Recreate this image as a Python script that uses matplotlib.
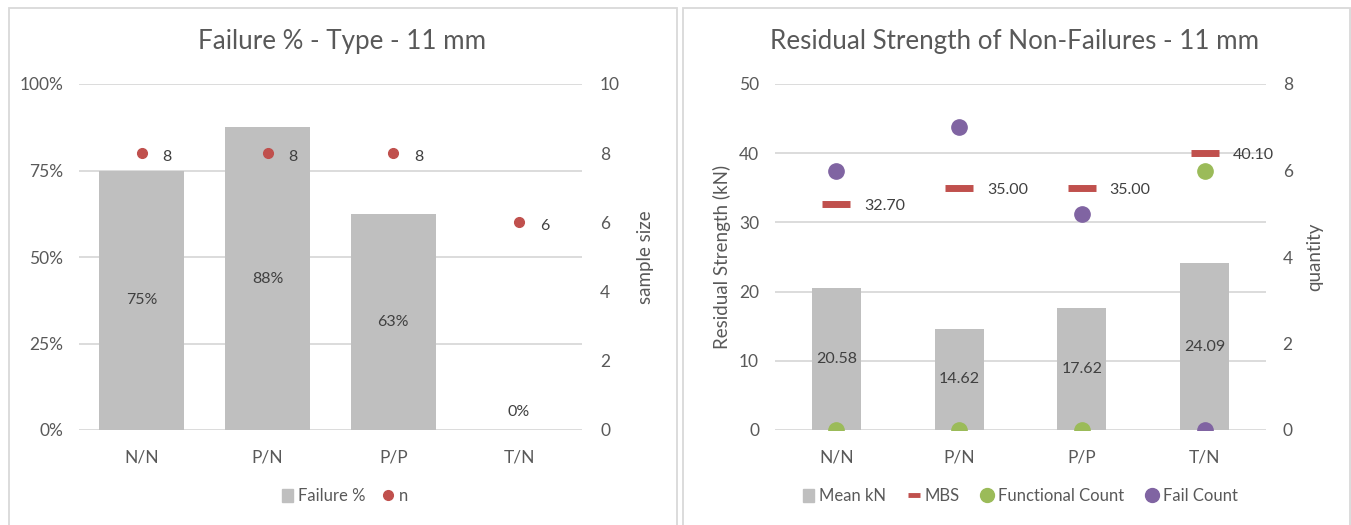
import matplotlib
matplotlib.use("Agg")
import matplotlib.pyplot as plt
from matplotlib.patches import Rectangle
from matplotlib.lines import Line2D
from matplotlib.ticker import FuncFormatter, MultipleLocator

# ---- data ----
categories = ["N/N", "P/N", "P/P", "T/N"]
failure_pct = [0.75, 0.875, 0.625, 0.0]
failure_labels = ["75%", "88%", "63%", "0%"]
sample_n = [8, 8, 8, 6]

mean_kn = [20.58, 14.62, 17.62, 24.09]
mbs = [32.70, 35.00, 35.00, 40.10]
functional_count = [0, 0, 0, 6]
fail_count = [6, 7, 5, 0]

plt.rcParams['font.family'] = ['Lato', 'DejaVu Sans']
TXT = '#595959'
DLBL = '#404040'
GRID = '#d9d9d9'
BAR = '#bfbfbf'
RED = '#c0504d'
GREEN = '#9bbb59'
PURPLE = '#8064a2'

TICK_FS = 12.5
DL_FS = 11.5
AXL_FS = 13.5
TITLE_FS = 18.7
LEG_FS = 12

W, H = 1351, 525
fig = plt.figure(figsize=(W / 100, H / 100), dpi=100)
fig.patch.set_facecolor('white')

# panel borders
for (x0, x1) in [(8.5, 676.5), (682.5, 1350)]:
    fig.add_artist(Rectangle((x0 / W, -0.05), (x1 - x0) / W, 1.05 - 7.5 / H,
                             transform=fig.transFigure, fill=False,
                             edgecolor='#d9d9d9', lw=1.3))

def ax_rect(x0, x1, ytop, ybot):
    return [x0 / W, 1 - ybot / H, (x1 - x0) / W, (ybot - ytop) / H]

def style(ax):
    for s in ax.spines.values():
        s.set_visible(False)
    ax.tick_params(length=0, colors=TXT, labelsize=TICK_FS)

x = list(range(len(categories)))

# ---------------- left chart ----------------
ax1 = fig.add_axes(ax_rect(79, 582, 84, 430))
ax1.set_xlim(-0.5, 3.5)
ax1.set_ylim(0, 1.0)
ax1.yaxis.set_major_locator(MultipleLocator(0.25))
ax1.yaxis.set_major_formatter(FuncFormatter(lambda v, p: f"{v*100:.0f}%"))
ax1.grid(axis='y', color=GRID, lw=1.3)
ax1.set_axisbelow(True)
ax1.bar(x, failure_pct, width=0.675, color=BAR, zorder=2)
ax1.set_xticks(x)
ax1.set_xticklabels(categories)
style(ax1)
ax1.tick_params(axis='x', pad=14)
ax1.tick_params(axis='y', pad=11.5)
for xi, v, lab in zip(x, failure_pct, failure_labels):
    if v > 0:
        ax1.text(xi, v / 2, lab, ha='center', va='center', color=DLBL, fontsize=DL_FS, zorder=5)
    else:
        ax1.annotate(lab, (xi, 0), xytext=(0, 13), textcoords='offset points',
                     ha='center', va='center', color=DLBL, fontsize=DL_FS)

ax1b = ax1.twinx()
ax1b.set_ylim(0, 10)
ax1b.yaxis.set_major_locator(MultipleLocator(2))
ax1b.plot(x, sample_n, 'o', color=RED, ms=7, zorder=6)
for xi, v in zip(x, sample_n):
    ax1b.annotate(str(v), (xi, v), xytext=(15, -2.5), textcoords='offset points',
                  ha='left', va='center', color=DLBL, fontsize=DL_FS)
style(ax1b)
ax1b.tick_params(axis='y', pad=13)
ax1b.set_ylabel('sample size', color=TXT, fontsize=AXL_FS, labelpad=12)

fig.text(342 / W, 1 - 41 / H, 'Failure % - Type - 11 mm', ha='center', va='center',
         color=TXT, fontsize=TITLE_FS)

h1 = [Rectangle((0, 0), 1, 1, color=BAR),
      Line2D([], [], ls='none', marker='o', color=RED, ms=7)]
fig.legend(h1, ['Failure %', 'n'], loc='center', bbox_to_anchor=(345 / W, 1 - 496 / H),
           ncol=2, frameon=False, fontsize=LEG_FS, labelcolor=TXT, handlelength=0.7,
           handleheight=0.8, handletextpad=0.3, columnspacing=1.0)

# ---------------- right chart ----------------
ax2 = fig.add_axes(ax_rect(775, 1266, 84, 430))
ax2.set_xlim(-0.5, 3.5)
ax2.set_ylim(0, 50)
ax2.yaxis.set_major_locator(MultipleLocator(10))
ax2.grid(axis='y', color=GRID, lw=1.3)
ax2.set_axisbelow(True)
ax2.bar(x, mean_kn, width=0.40, color=BAR, zorder=2)
ax2.set_xticks(x)
ax2.set_xticklabels(categories)
style(ax2)
ax2.tick_params(axis='x', pad=14)
ax2.tick_params(axis='y', pad=11.5)
ax2.set_ylabel('Residual Strength (kN)', color=TXT, fontsize=AXL_FS, labelpad=6)
for xi, v in zip(x, mean_kn):
    ax2.text(xi, v / 2, f"{v:.2f}", ha='center', va='center', color=DLBL, fontsize=DL_FS, zorder=5)
ax2.plot(x, mbs, ls='none', marker='_', color=RED, ms=20, mew=5, zorder=6)
for xi, v in zip(x, mbs):
    ax2.annotate(f"{v:.2f}", (xi, v), xytext=(20, -1.5), textcoords='offset points',
                 ha='left', va='center', color=DLBL, fontsize=DL_FS, zorder=7)

ax2b = ax2.twinx()
ax2b.set_ylim(0, 8)
ax2b.yaxis.set_major_locator(MultipleLocator(2))
ax2b.plot(x, functional_count, 'o', color=GREEN, ms=11, zorder=6)
ax2b.plot(x, fail_count, 'o', color=PURPLE, ms=11, zorder=6)
style(ax2b)
ax2b.tick_params(axis='y', pad=12)
ax2b.set_ylabel('quantity', color=TXT, fontsize=AXL_FS, labelpad=10)

fig.text(1015 / W, 1 - 41 / H, 'Residual Strength of Non-Failures - 11 mm', ha='center',
         va='center', color=TXT, fontsize=TITLE_FS)

h2 = [Rectangle((0, 0), 1, 1, color=BAR),
      Line2D([], [], ls='none', marker='_', color=RED, ms=8, mew=3.5),
      Line2D([], [], ls='none', marker='o', color=GREEN, ms=10),
      Line2D([], [], ls='none', marker='o', color=PURPLE, ms=10)]
fig.legend(h2, ['Mean kN', 'MBS', 'Functional Count', 'Fail Count'], loc='center',
           bbox_to_anchor=(1020 / W, 1 - 496 / H), ncol=4, frameon=False, fontsize=LEG_FS,
           labelcolor=TXT, handlelength=0.7, handleheight=0.8, handletextpad=0.3,
           columnspacing=1.3)

fig.savefig('out.png', dpi=100)
